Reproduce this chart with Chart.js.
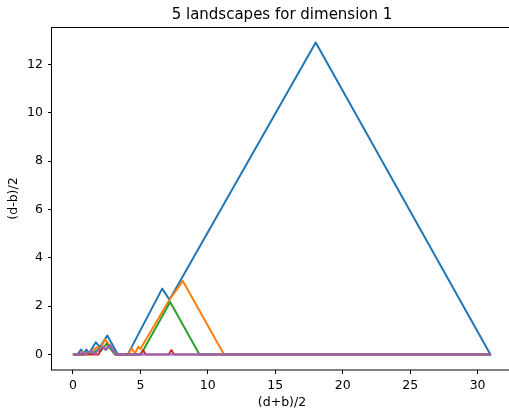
<!DOCTYPE html>
<html>
<head>
<meta charset="utf-8">
<script src="https://cdn.jsdelivr.net/npm/chart.js@4.4.1/dist/chart.umd.min.js"></script>
<style>
  html, body { margin: 0; padding: 0; overflow: hidden; background: #fff; }
</style>
</head>
<body>
<canvas id="landscapeChart" width="520" height="412"></canvas>
<script>
// landscape breakpoints: x = (d+b)/2, y = (d-b)/2
const l1x = [0, 0.35, 0.6, 0.8, 1.0, 1.2, 1.7, 2.0, 2.55, 3.33, 4.07, 6.62, 7.16, 18.0, 30.95, 31.0];
const l1y = [0, 0, 0.2, 0.05, 0.2, 0.05, 0.5, 0.3, 0.78, 0, 0, 2.72, 2.26, 12.9, 0, 0];

const l2x = [0, 0.5, 0.7, 1.0, 1.3, 1.8, 2.0, 2.38, 3.2, 4.1, 4.35, 4.6, 4.85, 5.0, 7.16, 8.15, 11.2, 31.0];
const l2y = [0, 0, 0.1, 0.02, 0.1, 0.3, 0.22, 0.62, 0, 0, 0.25, 0.05, 0.32, 0.22, 2.26, 3.04, 0, 0];

const l3x = [0, 0.9, 1.1, 1.4, 1.85, 2.05, 2.5, 3.1, 5.04, 7.21, 9.38, 31.0];
const l3y = [0, 0, 0.08, 0.02, 0.2, 0.12, 0.45, 0, 0, 2.17, 0, 0];

const l4x = [0, 1.9, 2.2, 2.4, 2.75, 3.15, 5.0, 5.2, 5.4, 7.1, 7.3, 7.5, 31.0];
const l4y = [0, 0, 0.33, 0.2, 0.38, 0, 0, 0.18, 0, 0, 0.18, 0, 0];

const l5x = [0, 0.5, 0.7, 1.0, 1.35, 1.6, 2.2, 2.46, 2.76, 3.15, 31.0];
const l5y = [0, 0, 0.06, 0.02, 0.15, 0.03, 0.33, 0.19, 0.37, 0, 0];

const xTicks = [0, 5, 10, 15, 20, 25, 30];
const yTicks = [0, 2, 4, 6, 8, 10, 12];
const colors = ['#1f77b4', '#ff7f0e', '#2ca02c', '#d62728', '#9467bd'];

function pts(xs, ys) {
  return xs.map((x, i) => ({x: x, y: ys[i]}));
}

const series = [[l1x, l1y], [l2x, l2y], [l3x, l3y], [l4x, l4y], [l5x, l5y]];
const FONT = 'DejaVu Sans';

// matplotlib-like frame and title
const frame = {
  id: 'frame',
  afterDraw(chart) {
    const a = chart.chartArea;
    const ctx = chart.ctx;
    ctx.save();
    ctx.strokeStyle = '#000';
    ctx.lineWidth = 1;
    ctx.strokeRect(Math.round(a.left) - 0.5, Math.round(a.top) + 0.5,
      Math.round(a.right - a.left) + 1, Math.round(a.bottom - a.top) - 0.5);
    ctx.fillStyle = '#000';
    ctx.font = '15px "' + FONT + '"';
    ctx.textAlign = 'center';
    ctx.textBaseline = 'middle';
    ctx.fillText('5 landscapes for dimension 1', (a.left + a.right) / 2, 15);
    ctx.restore();
  }
};

const config = {
  type: 'scatter',
  data: {
    datasets: series.map((s, i) => ({
      label: 'landscape ' + (i + 1),
      data: pts(s[0], s[1]),
      showLine: true,
      borderColor: colors[i],
      backgroundColor: colors[i],
      borderWidth: 2,
      borderJoinStyle: 'round',
      pointRadius: 0,
      tension: 0,
      order: 5 - i
    }))
  },
  options: {
    responsive: false,
    animation: false,
    events: [],
    layout: { padding: { top: 27, right: 8, left: 0, bottom: 0 } },
    plugins: {
      legend: { display: false },
      tooltip: { enabled: false },
      title: { display: false }
    },
    scales: {
      x: {
        type: 'linear',
        min: -1.55,
        max: 32.55,
        afterBuildTicks: scale => { scale.ticks = xTicks.map(v => ({value: v})); },
        afterFit: scale => { scale.height = 42; },
        border: { display: false },
        grid: { drawOnChartArea: false, tickLength: 4, tickColor: '#000', color: '#000' },
        ticks: { color: '#000', font: { family: FONT, size: 12.5 }, padding: 4.5, maxRotation: 0 },
        title: { display: true, text: '(d+b)/2', color: '#000',
          font: { family: FONT, size: 12.5 }, padding: { top: 0, bottom: 1.5 } }
      },
      y: {
        type: 'linear',
        min: -0.645,
        max: 13.545,
        afterBuildTicks: scale => { scale.ticks = yTicks.map(v => ({value: v})); },
        afterFit: scale => { scale.width = 52; },
        border: { display: false },
        grid: { drawOnChartArea: false, tickLength: 4, tickColor: '#000', color: '#000' },
        ticks: { color: '#000', font: { family: FONT, size: 12.5 }, padding: 5 },
        title: { display: true, text: '(d-b)/2', color: '#000',
          font: { family: FONT, size: 12.5 }, padding: { top: 6.5, bottom: 0 } }
      }
    }
  },
  plugins: [frame]
};

var landscapeChart = new Chart(document.getElementById('landscapeChart'), config);
</script>
</body>
</html>
